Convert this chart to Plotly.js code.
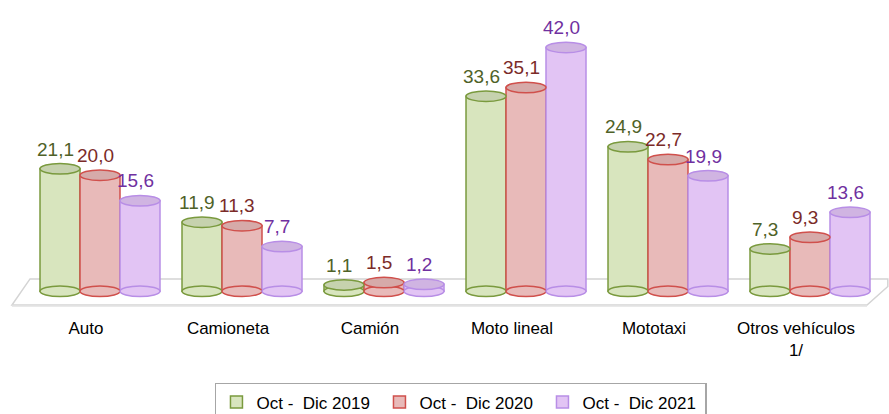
<!DOCTYPE html>
<html>
<head>
<meta charset="utf-8">
<script src="https://cdn.plot.ly/plotly-3.0.1.min.js"></script>
<style>html,body{margin:0;padding:0;background:#fff;}#chart{width:889px;height:414px;}</style>
</head>
<body>
<div id="chart"></div>
<script>
const categories = ["Auto", "Camioneta", "Camión", "Moto lineal", "Mototaxi", "Otros vehículos<br>1/"];
const seriesNames = ["Oct - \u00a0Dic 2019", "Oct - \u00a0Dic 2020", "Oct - \u00a0Dic 2021"];
const values2019 = [21.1, 11.9, 1.1, 33.6, 24.9, 7.3];
const values2020 = [20.0, 11.3, 1.5, 35.1, 22.7, 9.3];
const values2021 = [15.6, 7.7, 1.2, 42.0, 19.9, 13.6];

const series = [values2019, values2020, values2021];
const fills = ["rgb(216,229,190)", "rgb(232,186,185)", "rgb(226,196,244)"];
const tops = ["rgb(198,210,174)", "rgb(214,170,169)", "rgb(208,180,226)"];
const lines = ["#7a9a3e", "#d0504c", "#b88ee6"];
const textColors = ["#4f6228", "#7b2b28", "#7030a0"];
const FONT = "'Liberation Sans Narrow', 'Arial Narrow', 'Liberation Sans', Arial, sans-serif";

const bargap = 0.155;
const bw = (1 - bargap) / 3;
const eh = 0.9;

const fmt = v => v.toFixed(1).replace('.', ',');

const traces = series.map((vals, i) => ({
  type: 'bar',
  name: seriesNames[i],
  x: categories,
  y: vals,
  marker: {color: fills[i], line: {color: lines[i], width: 1.5}},
  hoverinfo: 'none'
}));

const shapes = [
  // floor platform
  {type: 'path', xref: 'paper', yref: 'paper', layer: 'below',
   path: 'M -0.02 -0.0185 L 0.9836 -0.0185 L 1.008 0.05 L 1.008 0.078 L 0.0012 0.078 Z',
   fillcolor: '#ffffff', line: {color: '#d4d4d4', width: 1.5}},
  {type: 'line', xref: 'paper', yref: 'paper', layer: 'below',
   x0: -0.02, x1: 0.9836, y0: -0.0215, y1: -0.0215, line: {color: '#e2e2e2', width: 2}}
];
const annotations = [];
series.forEach((vals, i) => {
  const off = (i - 1) * bw;
  vals.forEach((v, k) => {
    const x0 = k + off - bw / 2, x1 = k + off + bw / 2;
    shapes.push({type: 'circle', xref: 'x', yref: 'y', x0: x0, x1: x1, y0: -eh, y1: eh,
      fillcolor: fills[i], line: {color: lines[i], width: 1.5}});
    shapes.push({type: 'circle', xref: 'x', yref: 'y', x0: x0, x1: x1, y0: v - eh, y1: v + eh,
      fillcolor: tops[i], line: {color: lines[i], width: 1.5}});
    annotations.push({xref: 'x', yref: 'y', x: k + off, y: v + eh, text: fmt(v), showarrow: false,
      xanchor: 'center', yanchor: 'bottom', xshift: -5, yshift: 2,
      font: {family: FONT, size: 19, color: textColors[i]}});
  });
});

const layout = {
  width: 889, height: 414,
  margin: {l: 29, r: 8, t: 30, b: 114, autoexpand: false},
  paper_bgcolor: '#fff', plot_bgcolor: 'rgba(0,0,0,0)',
  barmode: 'group', bargap: bargap, bargroupgap: 0,
  showlegend: true,
  legend: {orientation: 'h', x: 0.507, xanchor: 'center', y: -0.307, yanchor: 'top',
    bordercolor: '#a6a6a6', borderwidth: 1.5, font: {family: FONT, size: 17, color: '#000'},
    traceorder: 'normal', entrywidth: 118, entrywidthmode: 'pixels'},
  xaxis: {type: 'category', showgrid: false, zeroline: false, showline: false, ticks: '',
    tickfont: {family: FONT, size: 17, color: '#000'}, ticklabelshift: -14, ticklabelstandoff: 16},
  yaxis: {range: [-1.5, 45], visible: false, showgrid: false, zeroline: false},
  shapes: shapes,
  annotations: annotations,
  font: {family: FONT}
};

Plotly.newPlot('chart', traces, layout, {staticPlot: true, displayModeBar: false});
</script>
</body>
</html>
